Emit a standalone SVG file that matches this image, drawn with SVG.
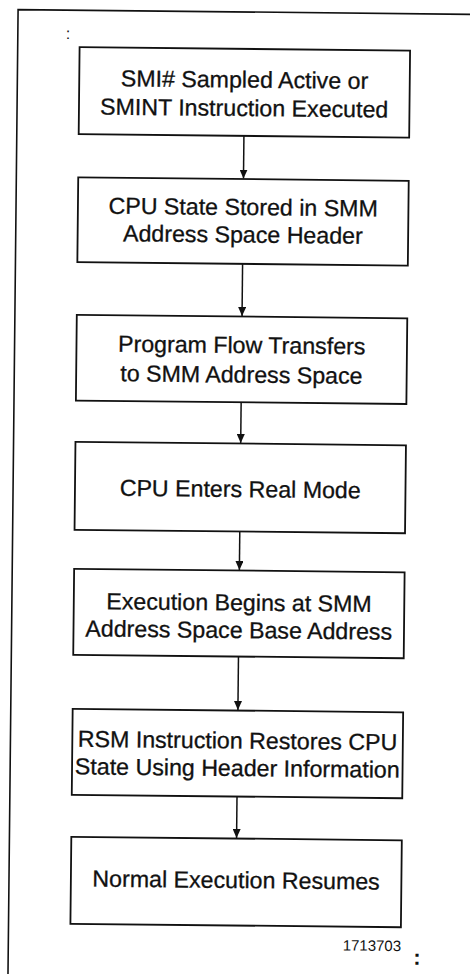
<svg xmlns="http://www.w3.org/2000/svg" width="470" height="974" viewBox="0 0 470 974">
<style>
.box{fill:#fff;stroke:#111;stroke-width:1.8}
.frame{fill:none;stroke:#111;stroke-width:1.6}
.t{font-family:"Liberation Sans",Arial,sans-serif;font-size:23.2px;fill:#111;stroke:#111;stroke-width:0.3;text-anchor:middle}
.lbl{font-family:"Liberation Sans",Arial,sans-serif;font-size:15px;fill:#111}
.conn line{stroke:#111;stroke-width:1.5}
</style>
<defs>
<marker id="ah" markerUnits="userSpaceOnUse" markerWidth="9" markerHeight="8" viewBox="0 0 9 8" refX="9" refY="4" orient="auto">
<path d="M0,0 L9,4 L0,8 z" fill="#111"/>
</marker>
</defs>
<rect width="470" height="974" fill="#fff"/>
<g transform="rotate(0.6 235 487)">
<path class="frame" d="M13.1 1000 V11.9 H500"/>
<text class="lbl" x="63.3" y="40.7" text-anchor="middle" style="font-size:16px">:</text>
<g id="n1"><rect class="box" x="75" y="48.8" width="330.5" height="87"/>
<text class="t" x="240.25" y="87.5">SMI# Sampled Active or</text>
<text class="t" x="240.25" y="116">SMINT Instruction Executed</text></g>
<g id="n2"><rect class="box" x="75" y="179" width="330.5" height="84.8"/>
<text class="t" x="240.25" y="215">CPU State Stored in SMM</text>
<text class="t" x="240.25" y="242.5">Address Space Header</text></g>
<g id="n3"><rect class="box" x="75" y="316.5" width="330.5" height="85.7"/>
<text class="t" x="240.25" y="353">Program Flow Transfers</text>
<text class="t" x="240.25" y="382.5">to SMM Address Space</text></g>
<g id="n4"><rect class="box" x="75" y="443.5" width="330.5" height="88"/>
<text class="t" x="240.25" y="497">CPU Enters Real Mode</text></g>
<g id="n5"><rect class="box" x="75" y="570.5" width="330.5" height="86"/>
<text class="t" x="240.25" y="610.5">Execution Begins at SMM</text>
<text class="t" x="240.25" y="638">Address Space Base Address</text></g>
<g id="n6"><rect class="box" x="75" y="710.5" width="330.5" height="86"/>
<text class="t" x="240.25" y="748.5">RSM Instruction Restores CPU</text>
<text class="t" x="240.25" y="776">State Using Header Information</text></g>
<g id="n7"><rect class="box" x="75" y="838.5" width="330.5" height="87"/>
<text class="t" x="240.25" y="888">Normal Execution Resumes</text></g>
<g class="conn">
<line x1="240.25" y1="136" x2="240.25" y2="178.5" marker-end="url(#ah)"/>
<line x1="240.25" y1="264" x2="240.25" y2="316" marker-end="url(#ah)"/>
<line x1="240.25" y1="402.5" x2="240.25" y2="443" marker-end="url(#ah)"/>
<line x1="240.25" y1="531.8" x2="240.25" y2="570" marker-end="url(#ah)"/>
<line x1="240.25" y1="657" x2="240.25" y2="710" marker-end="url(#ah)"/>
<line x1="240.25" y1="797" x2="240.25" y2="838" marker-end="url(#ah)"/>
</g>
<text class="lbl" x="405.9" y="949.3" text-anchor="end">1713703</text>
<text x="422" y="962.8" text-anchor="middle" style="font-family:'Liberation Sans',Arial,sans-serif;font-size:22px;font-weight:bold;fill:#111">:</text>
</g>
</svg>
